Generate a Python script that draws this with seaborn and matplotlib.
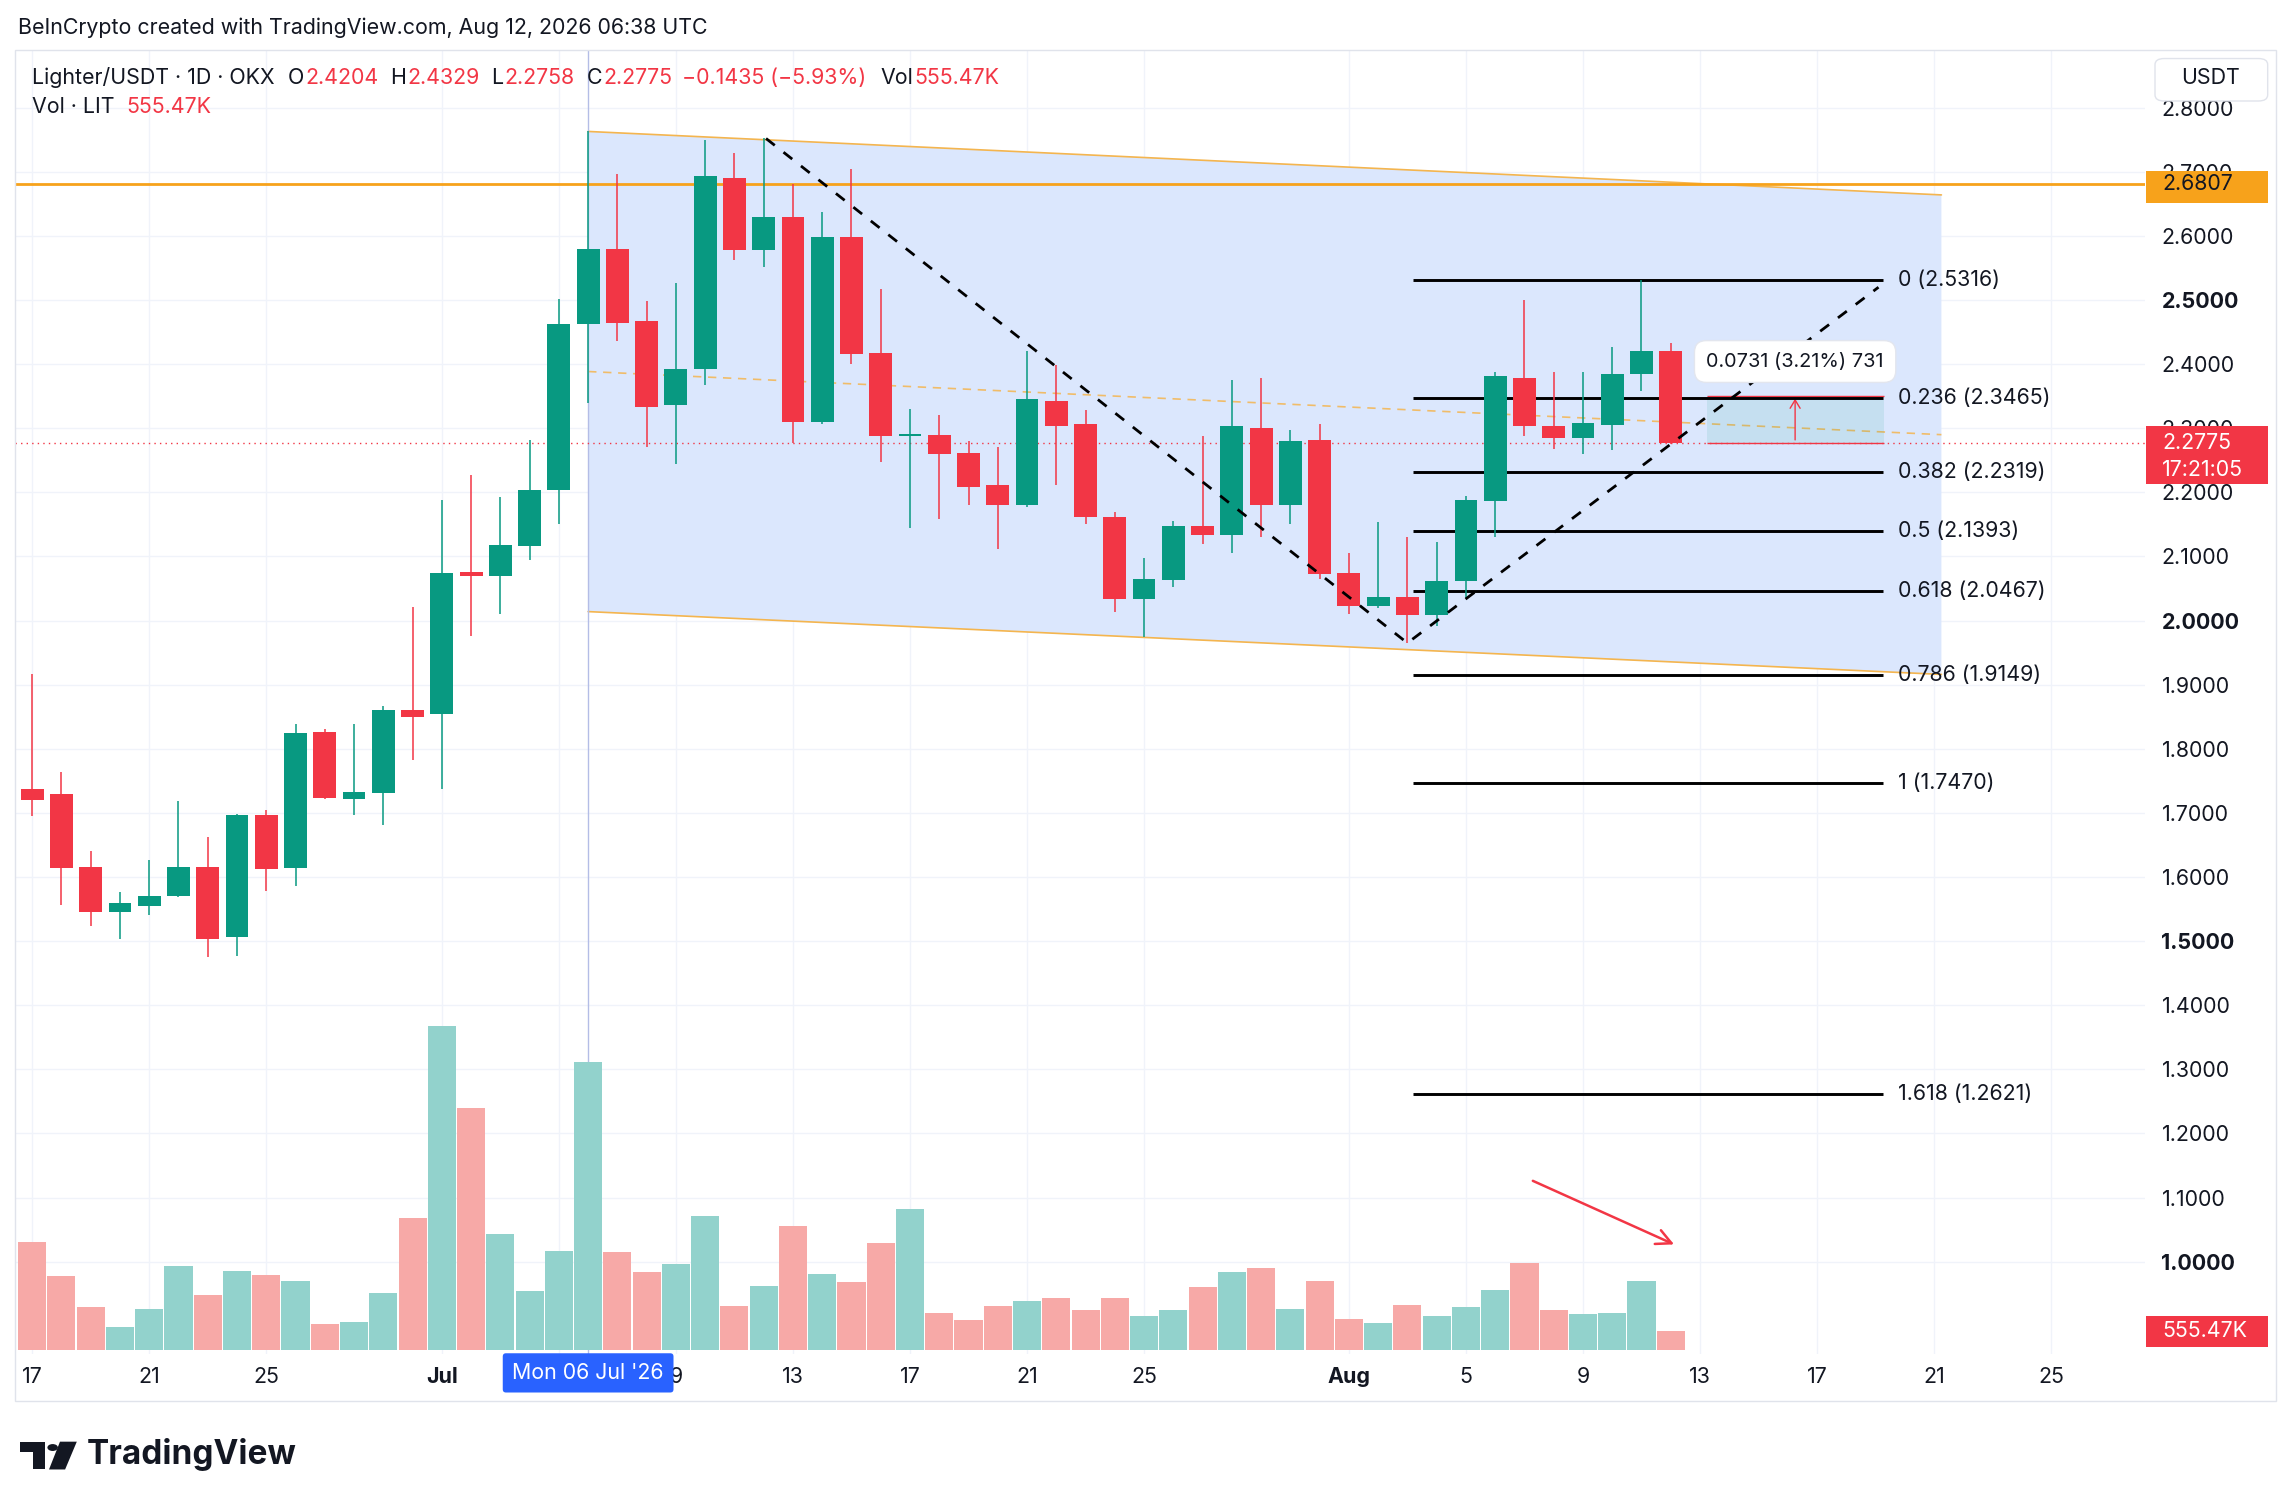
import numpy as np
import pandas as pd
import matplotlib
matplotlib.use('Agg')
import matplotlib.pyplot as plt
import matplotlib.transforms as mtransforms
from matplotlib.patches import Rectangle, FancyBboxPatch, Polygon, Circle
import seaborn as sns

# ---- data: Lighter/USDT daily candles, 17 Jun - 12 Aug 2026
dates = pd.date_range('2026-06-17', '2026-08-12', freq='D')
opens = [1.738, 1.729, 1.616, 1.545, 1.554, 1.570, 1.616, 1.506, 1.697, 1.614,
         1.826, 1.721, 1.731, 1.861, 1.854, 2.076, 2.069, 2.117, 2.203, 2.462,
         2.580, 2.467, 2.336, 2.392, 2.690, 2.578, 2.630, 2.309, 2.598, 2.417,
         2.288, 2.290, 2.262, 2.211, 2.181, 2.343, 2.306, 2.162, 2.034, 2.064,
         2.147, 2.133, 2.301, 2.180, 2.281, 2.074, 2.022, 2.037, 2.009, 2.061,
         2.187, 2.379, 2.304, 2.285, 2.305, 2.384, 2.4204]
highs = [1.916, 1.764, 1.641, 1.576, 1.627, 1.719, 1.662, 1.698, 1.705, 1.838,
         1.831, 1.838, 1.866, 2.021, 2.188, 2.227, 2.192, 2.282, 2.502, 2.764,
         2.696, 2.499, 2.527, 2.749, 2.730, 2.752, 2.681, 2.637, 2.704, 2.518,
         2.330, 2.320, 2.280, 2.271, 2.420, 2.399, 2.328, 2.170, 2.097, 2.156,
         2.288, 2.376, 2.379, 2.297, 2.306, 2.105, 2.154, 2.130, 2.122, 2.195,
         2.388, 2.500, 2.387, 2.387, 2.426, 2.531, 2.4329]
lows = [1.695, 1.556, 1.523, 1.504, 1.540, 1.569, 1.475, 1.477, 1.578, 1.586,
        1.722, 1.697, 1.681, 1.782, 1.737, 1.976, 2.010, 2.095, 2.150, 2.340,
        2.436, 2.271, 2.245, 2.367, 2.562, 2.552, 2.277, 2.306, 2.400, 2.248,
        2.144, 2.158, 2.181, 2.111, 2.177, 2.212, 2.151, 2.013, 1.975, 2.053,
        2.119, 2.106, 2.130, 2.151, 2.065, 2.011, 2.019, 1.965, 1.991, 2.035,
        2.131, 2.288, 2.268, 2.260, 2.266, 2.358, 2.2758]
closes = [1.720, 1.614, 1.546, 1.559, 1.571, 1.616, 1.504, 1.697, 1.612, 1.824,
          1.723, 1.733, 1.861, 1.850, 2.074, 2.069, 2.118, 2.204, 2.463, 2.580,
          2.464, 2.333, 2.393, 2.693, 2.578, 2.630, 2.309, 2.598, 2.416, 2.288,
          2.290, 2.260, 2.209, 2.181, 2.345, 2.304, 2.161, 2.034, 2.065, 2.147,
          2.133, 2.303, 2.181, 2.280, 2.072, 2.022, 2.037, 2.009, 2.062, 2.188,
          2.381, 2.303, 2.285, 2.308, 2.385, 2.421, 2.2775]
# volume in thousands of LIT
volumes_k = [3157, 2163, 1257, 672, 1199, 2456, 1608, 2310, 2193, 2017,
             760, 819, 1666, 3859, 9472, 7075, 3391, 1725, 2894, 8420,
             2865, 2280, 2514, 3917, 1286, 1871, 3625, 2222, 1988, 3128,
             4122, 1082, 877, 1286, 1433, 1530, 1169, 1530, 1004, 1169,
             1852, 2280, 2407, 1199, 2017, 906, 789, 1316, 1004, 1267,
             1754, 2543, 1169, 1052, 1082, 2017, 555.47]

fib_levels = ['0', '0.236', '0.382', '0.5', '0.618', '0.786', '1', '1.618']
fib_prices = [2.5316, 2.3465, 2.2319, 2.1393, 2.0467, 1.9149, 1.7470, 1.2621]

resistance = 2.6807
last_price = 2.2775
measure_move = 0.0731

tick_dates = ['2026-06-17', '2026-06-21', '2026-06-25', '2026-07-01', '2026-07-05',
              '2026-07-09', '2026-07-13', '2026-07-17', '2026-07-21', '2026-07-25',
              '2026-08-01', '2026-08-05', '2026-08-09', '2026-08-13', '2026-08-17',
              '2026-08-21', '2026-08-25']
tick_labels = ['17', '21', '25', 'Jul', '5', '9', '13', '17', '21', '25',
               'Aug', '5', '9', '13', '17', '21', '25']
price_ticks = [1.0, 1.1, 1.2, 1.3, 1.4, 1.5, 1.6, 1.7, 1.8, 1.9, 2.0,
               2.1, 2.2, 2.3, 2.4, 2.5, 2.6, 2.7, 2.8]

# drawing anchors (day index, price)
channel_top = [(19, 2.763), (65.25, 2.664)]
channel_bot = [(19, 2.014), (65.25, 1.916)]
swing_path = [(25.08, 2.752), (47.0, 1.965), (63.1, 2.52)]

# ---- style
sns.set_theme(style='white')
plt.rcParams['font.family'] = ['Inter', 'DejaVu Sans']
GREEN, RED, INK = '#089981', '#f23645', '#131722'
FS = 15.4

start = dates[0]
days = np.arange(len(dates))
o, h, l, c = map(np.array, (opens, highs, lows, closes))
up = c >= o

# reference layout is 1568 x 1031 units
W, H = 1568.0, 1031.0
fig = plt.figure(figsize=(22.94, 15.09), dpi=100)
fig.patch.set_facecolor('white')
pl, pr, pt, pb = 10.5, 1466.0, 34.0, 925.0
ax = fig.add_axes([pl / W, 1 - pb / H, (pr - pl) / W, (pb - pt) / H])


def day_at(xd):
    return (xd - 22.0) / 20.0


def price_at(yd):
    return 2.0 + (424.0 - yd) / 438.0


ax.set_xlim(day_at(pl), day_at(pr))
ax.set_ylim(price_at(pb), price_at(pt))

# volume (own scale, overlaid at the bottom)
axv = ax.twinx()
vol_df = pd.DataFrame({'day': days, 'vol': volumes_k,
                       'dir': np.where(up, 'up', 'down')})
sns.barplot(data=vol_df, x='day', y='vol', hue='dir',
            palette={'up': '#92d2cc', 'down': '#f7a9a7'},
            native_scale=True, width=0.96, dodge=False, errorbar=None,
            saturation=1, linewidth=0, legend=False, ax=axv)
kpp = 555.47 / 12.99  # thousands per layout unit
axv.set_ylim(-(pb - 922.7) * kpp, (922.7 - pt) * kpp)
axv.set_yticks([])
axv.set_xlabel('')
axv.set_ylabel('')
for sp in axv.spines.values():
    sp.set_visible(False)

ax.set_xlim(day_at(pl), day_at(pr))

# grid + axes
tick_days = [(pd.Timestamp(d) - start).days for d in tick_dates]
ax.set_xticks(tick_days)
ax.set_xticklabels(tick_labels)
ax.set_yticks(price_ticks)
ax.set_yticklabels([f'{v:.4f}' for v in price_ticks])
ax.yaxis.tick_right()
ax.tick_params(axis='y', length=0, pad=12.0, labelsize=FS, labelcolor=INK)
ax.tick_params(axis='x', length=0, pad=9.5, labelsize=FS, labelcolor=INK)
for lab, v in zip(ax.get_yticklabels(), price_ticks):
    if abs(v * 2 - round(v * 2)) < 1e-6:
        lab.set_fontweight('bold')
for lab in ax.get_xticklabels():
    if lab.get_text() in ('Jul', 'Aug'):
        lab.set_fontweight('bold')
ax.grid(True, color='#f0f3fa', lw=1.0)
ax.set_axisbelow(True)
for sp in ax.spines.values():
    sp.set_visible(False)

# parallel channel
(x0, y0), (x1, y1) = channel_top
(_, b0), (_, b1) = channel_bot
ax.fill([x0, x1, x1, x0], [y0, y1, b1, b0], color='#dbe7fd', lw=0, zorder=1)
ax.plot([x0, x1], [y0, y1], color='#f4b54f', lw=1.2, zorder=2)
ax.plot([x0, x1], [b0, b1], color='#f4b54f', lw=1.2, zorder=2)
ax.plot([x0, x1], [(y0 + b0) / 2, (y1 + b1) / 2], color='#f4b54f', lw=1.2,
        ls=(0, (5, 4)), alpha=0.85, zorder=2)

# crosshair on 6 Jul
ax.axvline(19, color='#b4bde6', lw=1.0, zorder=2)

# resistance + last price
ax.axhline(resistance, color='#f7a21b', lw=2.0, zorder=2.5)
ax.axhline(last_price, color=RED, lw=1.0, ls=(0, (1, 3)), zorder=2.5)

# fib retracement
for lev, p in zip(fib_levels, fib_prices):
    ax.hlines(p, 47.2, 63.25, color='black', lw=2.1, zorder=3)
    ax.text(63.75, p, f'{lev} ({p:.4f})', fontsize=FS, color=INK,
            va='center', ha='left', zorder=6)

# measure box
ax.fill_between([57.25, 63.3], last_price, last_price + measure_move,
                color=GREEN, alpha=0.1, lw=0, zorder=2.6)
ax.hlines([last_price, last_price + measure_move], 57.25, 63.3, color=RED,
          lw=1.0, zorder=2.7)
ax.annotate('', xy=(60.25, last_price + measure_move), xytext=(60.25, last_price),
            arrowprops=dict(arrowstyle='->,head_length=0.5,head_width=0.3',
                            color=RED, lw=1.0), zorder=2.7)

# candles
ax.vlines(days, l, h, colors=np.where(up, GREEN, RED), lw=1.1, zorder=4)
body_h = np.maximum(np.abs(c - o), 0.003)
ax.bar(days, body_h, bottom=np.minimum(o, c), width=0.78,
       color=np.where(up, GREEN, RED), lw=0, zorder=4.1)

# swing lines
sx, sy = zip(*swing_path)
ax.plot(sx, sy, color='black', lw=2.0, ls=(0, (4, 4)), zorder=5)

ax.text(60.25, price_at(247), f'{measure_move:.4f} (3.21%) 731', fontsize=14.3,
        color=INK, ha='center', va='center', zorder=7,
        bbox=dict(boxstyle='round,pad=0.6,rounding_size=0.6', fc='white',
                  ec='#e3e6ee', lw=1))

# red arrow over volume
ax.annotate('', xy=(day_at(1146), price_at(851)), xytext=(day_at(1046), price_at(806)),
            arrowprops=dict(arrowstyle='->,head_length=0.9,head_width=0.45',
                            color=RED, lw=1.8), zorder=7)

# price axis tags
tag_tr = mtransforms.blended_transform_factory(ax.transAxes, ax.transData)
aw = pr - pl
bx0 = (1467 - pl) / aw
bw = (1550 - 1467) / aw
tx = (1478 - pl) / aw


def axis_tag(lo, hi, face, texts):
    ax.add_patch(Rectangle((bx0, lo), bw, hi - lo, transform=tag_tr, fc=face,
                           ec='none', clip_on=False, zorder=8))
    for yv, s, col in texts:
        ax.text(tx, yv, s, transform=tag_tr, fontsize=FS, color=col, va='center',
                ha='left', clip_on=False, zorder=9)


axis_tag(price_at(139), price_at(117), '#f7a21b', [(resistance, f'{resistance:.4f}', INK)])
axis_tag(price_at(331), price_at(291), RED,
         [(last_price, f'{last_price:.4f}', 'white'), (price_at(321), '17:21:05', 'white')])
axis_tag(price_at(920), price_at(899), RED, [(price_at(909.5), '555.47K', 'white')])

# date label under crosshair
ax.text(19, (pb - 938) / (pb - pt), "Mon 06 Jul '26", fontsize=FS, color='white',
        ha='center', va='center', clip_on=False, zorder=9,
        transform=mtransforms.blended_transform_factory(ax.transData, ax.transAxes),
        bbox=dict(boxstyle='round,pad=0.45,rounding_size=0.15', fc='#2962ff', ec='none'))

# ---- figure furniture
fig.patches.append(Rectangle((pl / W, 1 - 957 / H), (1556 - pl) / W, (957 - pt) / H,
                             transform=fig.transFigure, fill=False, ec='#e0e3eb', lw=1))
fig.patches.append(FancyBboxPatch((1473 / W, 1 - 69 / H), 77 / W, 29 / H,
                                  boxstyle='round,pad=0,rounding_size=0.004',
                                  transform=fig.transFigure, fc='white', ec='#e0e3eb', lw=1))
fig.text(1511 / W, 1 - 53.5 / H, 'USDT', fontsize=FS, color=INK, ha='center', va='center')

fig.text(12 / W, 1 - 19 / H, 'BeInCrypto created with TradingView.com, Aug 12, 2026 06:38 UTC',
         fontsize=FS, color=INK, va='center', ha='left')

renderer = fig.canvas.get_renderer()


def chain(xd, yd, parts):
    x = xd / W
    for s, col, gap in parts:
        t = fig.text(x, 1 - yd / H, s, fontsize=FS, color=col, va='center', ha='left')
        bb = t.get_window_extent(renderer=renderer)
        x = (bb.x1 + gap) / fig.bbox.width


chain(22, 53, [('Lighter/USDT · 1D · OKX', INK, 13), ('O', INK, 1), ('2.4204', RED, 12),
               ('H', INK, 1), ('2.4329', RED, 12), ('L', INK, 1), ('2.2758', RED, 12),
               ('C', INK, 1), ('2.2775', RED, 10), ('−0.1435 (−5.93%)', RED, 14),
               ('Vol', INK, 1), ('555.47K', RED, 0)])
chain(22, 73, [('Vol · LIT', INK, 12), ('555.47K', RED, 0)])

# TradingView logo
logo = [Polygon([(14, 985), (31, 985), (31, 1004), (22.5, 1004), (22.5, 992), (14, 992)]),
        Circle((36, 989), 3.6),
        Polygon([(41, 985), (52.5, 985), (44.5, 1004), (33.5, 1004)])]
for p in logo:
    if isinstance(p, Circle):
        p = Circle((36 / W, 1 - 989 / H), 3.6 / W)
    else:
        p = Polygon([(a / W, 1 - b / H) for a, b in p.get_xy()])
    p.set_transform(fig.transFigure)
    p.set_facecolor(INK)
    p.set_edgecolor('none')
    fig.patches.append(p)
fig.text(59 / W, 1 - 994 / H, 'TradingView', fontsize=24, fontweight='bold',
         color=INK, va='center', ha='left')

fig.savefig('out.png', dpi=100, facecolor='white')
